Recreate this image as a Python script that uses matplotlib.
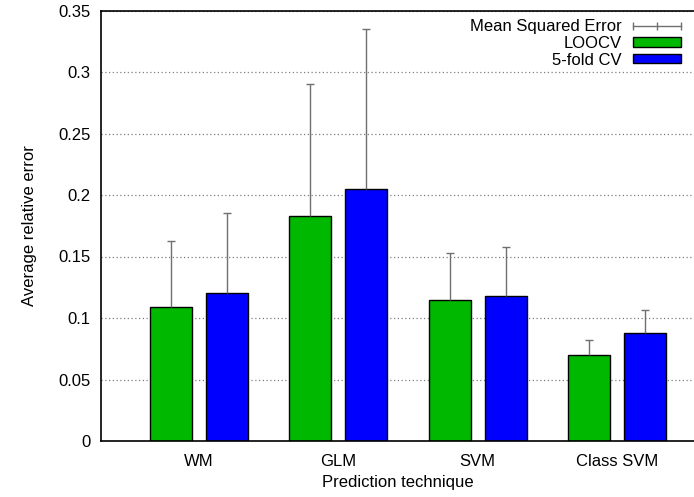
import numpy as np
import matplotlib
matplotlib.use('Agg')
import matplotlib.pyplot as plt
from matplotlib.lines import Line2D
from matplotlib.patches import Rectangle
from matplotlib.legend_handler import HandlerLine2D

plt.rcParams['font.family'] = ['Liberation Sans', 'DejaVu Sans']
plt.rcParams['font.size'] = 12

techniques = ['WM', 'GLM', 'SVM', 'Class SVM']
loocv = [0.109, 0.183, 0.115, 0.070]
kfold = [0.120, 0.205, 0.1175, 0.088]
# upper error extent (mean squared error)
loocv_err = [0.054, 0.107, 0.038, 0.012]
kfold_err = [0.065, 0.130, 0.0405, 0.0186]

green = '#00b800'
blue = '#0000ff'
err_col = '#707070'

fig = plt.figure(figsize=(6.94, 4.97), dpi=100)
ax = fig.add_axes([101/694, 1 - 441/497, (694 - 101)/694, (441 - 10.5)/497])

x = np.arange(1, len(techniques) + 1)
w = 0.3
ax.bar(x - 0.2, loocv, w, color=green, edgecolor='black', lw=1, zorder=2)
ax.bar(x + 0.2, kfold, w, color=blue, edgecolor='black', lw=1, zorder=2)

# one-sided error bars, cap only at the top
for xs, m, e in [(x - 0.2, loocv, loocv_err), (x + 0.2, kfold, kfold_err)]:
    top = np.array(m) + np.array(e)
    ax.vlines(xs, m, top, color=err_col, lw=1, zorder=3)
    ax.plot(xs, top, ls='none', marker='_', ms=6, mew=1, color=err_col, zorder=3)

ax.set_xlim(0.3, 4.55)
ax.set_ylim(0, 0.35)
ax.set_xticks(x)
ax.set_xticklabels(techniques)
yt = np.arange(0, 0.351, 0.05)
ax.set_yticks(yt)
ax.set_yticklabels(['%g' % round(v, 2) for v in yt])
ax.tick_params(length=0, pad=7.5)
ax.tick_params(axis='x', pad=9.5)
ax.yaxis.grid(True, ls=(0, (1, 2)), color='#808080', lw=0.9)
ax.set_axisbelow(True)
ax.spines['right'].set_visible(False)
for s in ['left', 'bottom', 'top']:
    ax.spines[s].set_linewidth(1.2)

ax.set_xlabel('Prediction technique', labelpad=4)
ax.set_ylabel('Average relative error', labelpad=15)

h_err = Line2D([], [], color=err_col, lw=1, marker='|', markersize=6)
h_loo = Rectangle((0, 0), 1, 1, facecolor=green, edgecolor='black', lw=1)
h_kf = Rectangle((0, 0), 1, 1, facecolor=blue, edgecolor='black', lw=1)
ax.legend([h_err, h_loo, h_kf], ['Mean Squared Error', 'LOOCV', '5-fold CV'],
          handler_map={h_err: HandlerLine2D(numpoints=3, marker_pad=0)},
          loc='upper right', bbox_to_anchor=(0.995, 1.003), frameon=False,
          markerfirst=False, handlelength=2.9, handleheight=0.5,
          labelspacing=0.1, handletextpad=0.65, borderaxespad=0.2)

fig.savefig('out.png', dpi=100)
